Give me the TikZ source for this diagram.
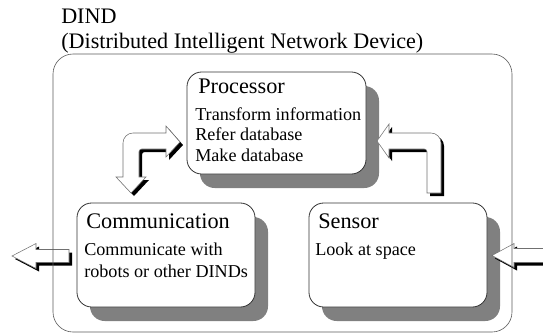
\documentclass[tikz,border=0pt]{standalone}
\usepackage{fontspec}
\setmainfont{Liberation Serif}
\usetikzlibrary{calc,shadows}

\definecolor{shadowgray}{HTML}{808080}
\definecolor{framegray}{HTML}{5A5A5A}
\definecolor{edgegray}{HTML}{333333}
\definecolor{arrowline}{HTML}{707070}

% block arrow outlines (pixel coordinates, y downwards)
\newcommand{\bentpair}{(166,133) -- (166,126) -- (180,142) -- (166,157) -- (166,149)
  [rounded corners=2pt] -- (139,149) [sharp corners] -- (139,177) -- (146,177) -- (131,193)
  -- (116,177) -- (123,177) [rounded corners=7.5pt] -- (123,133) [sharp corners] -- cycle}
\newcommand{\bentin}{(441,193) [rounded corners=7.5pt] -- (441,133) [sharp corners]
  -- (389,133) -- (389,124) -- (377,141) -- (389,158) -- (389,149)
  [rounded corners=2pt] -- (427,149) [sharp corners] -- (427,193) -- cycle}
\newcommand{\outarrow}{(69,249.5) -- (36,249.5) -- (36,243.5) -- (12,256) -- (36,268.5)
  -- (36,262.5) -- (69,262.5) -- cycle}
\newcommand{\inarrow}{(546,248.5) -- (514,248.5) -- (514,243.5) -- (492,255.5) -- (514,267.5)
  -- (514,262.5) -- (546,262.5) -- cycle}

\begin{document}
\begin{tikzpicture}[x=0.75pt,y=-0.75pt,
  unitbox/.style={draw=edgegray, fill=white, line width=0.6pt, rounded corners=11pt,
    inner sep=0pt, outer sep=0pt, anchor=north west,
    general shadow={fill=shadowgray, shadow xshift=9.75pt, shadow yshift=-10.5pt}},
  titletext/.style={inner sep=0pt, anchor=base west, font=\fontsize{16.6}{20}\selectfont},
  headtext/.style={inner sep=0pt, anchor=base west, font=\fontsize{16.7}{20}\selectfont},
  bodytext/.style={inner sep=0pt, anchor=base west, font=\fontsize{13.6}{16}\selectfont},
  arrowbody/.style={draw=arrowline, fill=white, line width=0.4pt, line join=miter},
  arrowshade/.style={fill=black, shift={(3,3)}},
  frame/.style={draw=framegray, line width=0.45pt, rounded corners=15pt}]

\useasboundingbox (0,0) rectangle (543,333);
\clip (0,0) rectangle (543,333);

% title
\node[titletext] (t1) at (61,23) {DIND};
\node[titletext] (t2) at (61,48) {(Distributed Intelligent Network Device)};

% the three units
\node[unitbox, minimum width=134.25pt, minimum height=76.5pt] (proc) at (187,72) {};
\node[unitbox, minimum width=133.5pt, minimum height=78pt] (comm) at (77,203) {};
\node[unitbox, minimum width=133.5pt, minimum height=78pt] (sens) at (309,203) {};

\node[headtext] (ph) at (198,93) {Processor};
\node[bodytext] (p1) at (195,120) {Transform information};
\node[bodytext] (p2) at (195,140.5) {Refer database};
\node[bodytext] (p3) at (195,161) {Make database};

\node[headtext] (ch) at (86,228) {Communication};
\node[bodytext] (c1) at (84,255) {Communicate with};
\node[bodytext] (c2) at (84,277) {robots or other DINDs};

\node[headtext] (sh) at (318,228) {Sensor};
\node[bodytext] (s1) at (315,255) {Look at space};

% block arrows with their dark drop shadows
\fill[arrowshade] \bentpair;
\path[arrowbody] \bentpair;
\fill[arrowshade] \bentin;
\path[arrowbody] \bentin;
\fill[arrowshade] \outarrow;
\path[arrowbody] \outarrow;
\fill[arrowshade] \inarrow;
\path[arrowbody] \inarrow;

% enclosing device frame
\draw[frame] (53,54) rectangle (512,332);
\end{tikzpicture}
\end{document}
